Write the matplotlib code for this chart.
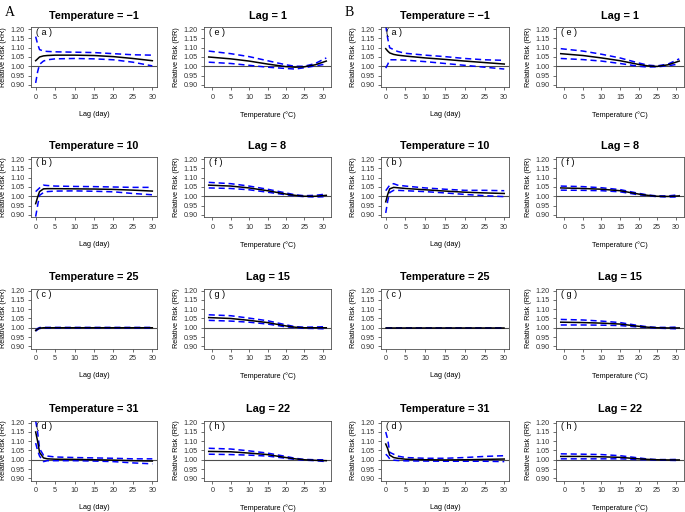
import numpy as np
import matplotlib
matplotlib.use("Agg")
import matplotlib.pyplot as plt

plt.rcParams['font.family'] = ['Liberation Sans', 'DejaVu Sans']

# lag grid for the "Temperature = x" panels, temperature grid for the "Lag = x" panels
lags = [0, 0.5, 1, 2, 3, 5, 10, 15, 20, 25, 30]
temps = [-1, 5, 10, 15, 20, 22.5, 25, 28, 31]

lag_titles = ["Temperature = \u22121", "Temperature = 10", "Temperature = 25", "Temperature = 31"]
temp_titles = ["Lag = 1", "Lag = 8", "Lag = 15", "Lag = 22"]
lag_tags = ["( a )", "( b )", "( c )", "( d )"]
temp_tags = ["( e )", "( f )", "( g )", "( h )"]

# ---- group A ----
A_lag_est = [
    [1.030, 1.040, 1.050, 1.056, 1.058, 1.060, 1.060, 1.058, 1.052, 1.042, 1.030],
    [0.960, 0.995, 1.025, 1.040, 1.041, 1.041, 1.040, 1.039, 1.037, 1.033, 1.028],
    [0.985, 0.993, 0.998, 1.000, 1.000, 1.000, 1.000, 1.000, 1.000, 1.000, 1.000],
    [1.150, 1.100, 1.040, 1.010, 1.005, 1.003, 1.002, 1.000, 0.998, 0.995, 0.993],
]
A_lag_hi = [
    [1.160, 1.120, 1.090, 1.082, 1.080, 1.078, 1.076, 1.074, 1.068, 1.062, 1.060],
    [1.025, 1.035, 1.045, 1.060, 1.058, 1.055, 1.053, 1.052, 1.050, 1.048, 1.048],
    [0.988, 0.996, 1.001, 1.002, 1.002, 1.002, 1.002, 1.002, 1.002, 1.002, 1.002],
    [1.210, 1.150, 1.060, 1.025, 1.020, 1.015, 1.012, 1.010, 1.008, 1.005, 1.005],
]
A_lag_lo = [
    [0.910, 0.970, 1.010, 1.028, 1.035, 1.040, 1.042, 1.040, 1.035, 1.022, 1.002],
    [0.890, 0.950, 1.005, 1.020, 1.025, 1.028, 1.029, 1.027, 1.024, 1.015, 1.008],
    [0.982, 0.990, 0.996, 0.998, 0.998, 0.998, 0.998, 0.998, 0.998, 0.998, 0.998],
    [1.090, 1.050, 1.020, 0.990, 0.995, 0.995, 0.995, 0.993, 0.990, 0.983, 0.978],
]
A_temp_est = [
    [1.050, 1.040, 1.028, 1.012, 0.998, 0.995, 0.997, 1.008, 1.028],
    [1.060, 1.055, 1.045, 1.030, 1.012, 1.005, 1.000, 1.000, 1.005],
    [1.055, 1.050, 1.040, 1.028, 1.010, 1.003, 1.000, 1.000, 1.000],
    [1.045, 1.043, 1.036, 1.028, 1.012, 1.005, 1.000, 0.997, 0.995],
]
A_temp_hi = [
    [1.082, 1.068, 1.052, 1.030, 1.008, 1.000, 1.000, 1.015, 1.045],
    [1.075, 1.068, 1.055, 1.038, 1.018, 1.008, 1.003, 1.005, 1.012],
    [1.070, 1.065, 1.052, 1.038, 1.016, 1.006, 1.003, 1.004, 1.006],
    [1.062, 1.058, 1.048, 1.036, 1.018, 1.008, 1.002, 1.000, 1.000],
]
A_temp_lo = [
    [1.022, 1.015, 1.005, 0.995, 0.988, 0.985, 0.992, 1.002, 1.012],
    [1.045, 1.042, 1.035, 1.022, 1.008, 1.002, 0.998, 0.996, 0.998],
    [1.040, 1.036, 1.030, 1.020, 1.005, 1.000, 0.997, 0.996, 0.994],
    [1.030, 1.028, 1.025, 1.020, 1.008, 1.002, 0.998, 0.995, 0.990],
]

# ---- group B ----
B_lag_est = [
    [1.095, 1.082, 1.072, 1.064, 1.060, 1.055, 1.045, 1.037, 1.028, 1.020, 1.012],
    [0.970, 1.010, 1.040, 1.048, 1.046, 1.042, 1.035, 1.028, 1.022, 1.018, 1.015],
    [1.000, 1.000, 1.000, 1.000, 1.000, 1.000, 1.000, 1.000, 1.000, 1.000, 1.000],
    [1.085, 1.060, 1.025, 1.012, 1.008, 1.003, 1.000, 0.999, 1.000, 1.002, 1.004],
]
B_lag_hi = [
    [1.220, 1.150, 1.100, 1.090, 1.080, 1.070, 1.060, 1.052, 1.042, 1.035, 1.032],
    [1.030, 1.045, 1.060, 1.068, 1.060, 1.055, 1.045, 1.038, 1.032, 1.032, 1.030],
    [1.001, 1.001, 1.001, 1.001, 1.001, 1.001, 1.001, 1.001, 1.001, 1.001, 1.001],
    [1.150, 1.110, 1.040, 1.030, 1.020, 1.012, 1.008, 1.008, 1.012, 1.018, 1.022],
]
B_lag_lo = [
    [0.990, 1.010, 1.035, 1.035, 1.035, 1.033, 1.025, 1.015, 1.005, 0.995, 0.985],
    [0.910, 0.975, 1.020, 1.032, 1.032, 1.030, 1.025, 1.018, 1.010, 1.003, 0.998],
    [0.999, 0.999, 0.999, 0.999, 0.999, 0.999, 0.999, 0.999, 0.999, 0.999, 0.999],
    [1.030, 1.020, 1.005, 0.998, 0.996, 0.994, 0.993, 0.992, 0.992, 0.992, 0.990],
]
B_temp_est = [
    [1.068, 1.058, 1.045, 1.030, 1.010, 1.002, 0.999, 1.008, 1.028],
    [1.045, 1.042, 1.038, 1.030, 1.012, 1.005, 1.000, 0.999, 1.002],
    [1.030, 1.028, 1.025, 1.020, 1.008, 1.003, 1.000, 0.999, 0.999],
    [1.018, 1.018, 1.016, 1.013, 1.005, 1.002, 1.000, 0.999, 0.999],
]
B_temp_hi = [
    [1.095, 1.082, 1.065, 1.045, 1.018, 1.006, 1.002, 1.012, 1.040],
    [1.055, 1.052, 1.046, 1.036, 1.016, 1.007, 1.002, 1.002, 1.008],
    [1.045, 1.042, 1.036, 1.028, 1.012, 1.005, 1.002, 1.002, 1.004],
    [1.032, 1.030, 1.028, 1.022, 1.010, 1.004, 1.001, 1.001, 1.002],
]
B_temp_lo = [
    [1.042, 1.036, 1.028, 1.015, 1.000, 0.996, 0.997, 1.003, 1.012],
    [1.033, 1.032, 1.030, 1.024, 1.008, 1.003, 0.998, 0.996, 0.996],
    [1.015, 1.015, 1.014, 1.012, 1.004, 1.001, 0.998, 0.996, 0.994],
    [1.005, 1.005, 1.005, 1.005, 1.001, 1.000, 0.999, 0.997, 0.996],
]

W, H = 685, 512
fig = plt.figure(figsize=(W / 100, H / 100), dpi=100)

col_left = [31, 204, 381, 556]
col_width = [126, 127, 128, 128]
row_top = [27, 157, 288.5, 420.5]
box_h = 60


def panel(ax, x, est, hi, lo, title, tag, xlabel, xlim):
    ax.axhline(1.0, color="0.3", lw=0.8, zorder=1)
    ax.plot(x, hi, color="blue", lw=1.1, ls=(0, (4, 2.5)), zorder=2)
    ax.plot(x, lo, color="blue", lw=1.1, ls=(0, (4, 2.5)), zorder=2)
    ax.plot(x, est, color="black", lw=1.1, zorder=3)
    ax.set_xlim(*xlim)
    ax.set_ylim(0.888, 1.212)
    ax.set_yticks(np.arange(0.90, 1.201, 0.05))
    ax.set_yticklabels([f"{v:.2f}" for v in np.arange(0.90, 1.201, 0.05)])
    ax.set_xticks(range(0, 31, 5))
    ax.tick_params(length=2.2, width=0.5, labelsize=5.2, pad=2.5, colors="0.2")
    for s in ax.spines.values():
        s.set_linewidth(0.6)
        s.set_color("0.3")
    ax.set_title(title, fontsize=7.8, fontweight="bold", pad=6)
    ax.set_xlabel(xlabel, fontsize=5.2, labelpad=7.5)
    ax.set_ylabel("Relative Risk (RR)", fontsize=5.2, labelpad=2.5)
    ax.text(0.04, 0.98, tag, transform=ax.transAxes, fontsize=6.5, va="top", ha="left")


groups = [
    (0, A_lag_est, A_lag_hi, A_lag_lo, A_temp_est, A_temp_hi, A_temp_lo),
    (2, B_lag_est, B_lag_hi, B_lag_lo, B_temp_est, B_temp_hi, B_temp_lo),
]

for c0, le, lh, ll, te, th, tl in groups:
    for r in range(4):
        y0 = row_top[r]
        ax = fig.add_axes([col_left[c0] / W, 1 - (y0 + box_h) / H, col_width[c0] / W, box_h / H])
        panel(ax, lags, le[r], lh[r], ll[r], lag_titles[r], lag_tags[r], "Lag (day)", (-1.2, 31.2))
        ax = fig.add_axes([col_left[c0 + 1] / W, 1 - (y0 + box_h) / H, col_width[c0 + 1] / W, box_h / H])
        panel(ax, temps, te[r], th[r], tl[r], temp_titles[r], temp_tags[r],
              "Temperature (\u00b0C)", (-2.28, 32.28))

fig.text(5 / W, 1 - 12 / H, "A", fontsize=10, family="Liberation Serif", va="center", ha="left")
fig.text(345 / W, 1 - 12 / H, "B", fontsize=10, family="Liberation Serif", va="center", ha="left")

fig.savefig("out.png", dpi=100)
